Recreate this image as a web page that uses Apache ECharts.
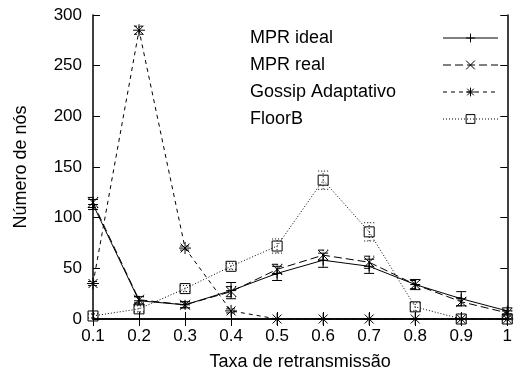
<!DOCTYPE html>
<html>
<head>
<meta charset="utf-8" />
<title>Número de nós</title>
<script src="https://cdn.jsdelivr.net/npm/echarts@6/dist/echarts.min.js"></script>
<style>
  body { margin: 0; background: #fff; }
  #chart { width: 515px; height: 376px; }
</style>
</head>
<body>
<div id="chart"></div>
<script type="text/javascript">
    // dados
    var taxas = [0.1, 0.2, 0.3, 0.4, 0.5, 0.6, 0.7, 0.8, 0.9, 1.0];
    var nomes = ['MPR ideal', 'MPR real', 'Gossip Adaptativo', 'FloorB'];
    var mprIdeal = [113, 18, 14, 28, 45, 58, 52, 34, 20, 8];
    var mprIdealErr = [5, 4, 3, 8, 7, 7, 7, 5, 7, 3];
    var mprReal = [115, 19, 14, 27, 49, 63, 56, 34, 17, 6];
    var mprRealErr = [5, 3, 3, 5, 5, 5, 6, 4, 4, 2];
    var gossip = [35, 285, 70, 8, 0, 0, 0, 0, 0, 0];
    var gossipErr = [2, 4, 2, 2, 0, 0, 0, 0, 0, 0];
    var floorB = [3, 10, 30, 52, 72, 137, 86, 12, 0, 0];
    var floorBErr = [2, 3, 3, 3, 7, 9, 9, 4, 1, 1];

    var fonte = 'Liberation Sans, Arial, sans-serif';

    function pares(vals) {
        return taxas.map(function (x, i) { return [x, vals[i]]; });
    }
    function barras(vals, errs) {
        return taxas.map(function (x, i) { return [x, vals[i] - errs[i], vals[i] + errs[i]]; });
    }

    // linhas de erro com "capas"
    function erro(tipo) {
        return function (params, api) {
            var x = api.value(0);
            var lo = api.coord([x, api.value(1)]);
            var hi = api.coord([x, api.value(2)]);
            var w = 5;
            var st = { stroke: '#000', lineWidth: 1, lineDash: tipo };
            return {
                type: 'group',
                children: [
                    { type: 'line', shape: { x1: lo[0], y1: lo[1], x2: hi[0], y2: hi[1] }, style: st },
                    { type: 'line', shape: { x1: lo[0] - w, y1: lo[1], x2: lo[0] + w, y2: lo[1] }, style: st },
                    { type: 'line', shape: { x1: hi[0] - w, y1: hi[1], x2: hi[0] + w, y2: hi[1] }, style: st }
                ]
            };
        };
    }

    var plus = 'path://M0,-5L0,5M-5,0L5,0';
    var cross = 'path://M-5,-5L5,5M-5,5L5,-5';
    var star = 'path://M0,-6L0,6M-6,0L6,0M-4.5,-4.5L4.5,4.5M-4.5,4.5L4.5,-4.5';

    function linha(nome, vals, simbolo, tipo, tam, fundo) {
        return {
            name: nome,
            type: 'line',
            data: pares(vals),
            symbol: simbolo,
            symbolSize: tam,
            showAllSymbol: true,
            lineStyle: { color: '#000', width: 1, type: tipo },
            itemStyle: { color: fundo, borderColor: '#000', borderWidth: 1 },
            z: 3,
            animation: false
        };
    }

    var myChart = echarts.init(document.getElementById('chart'));

    myChart.setOption({
        animation: false,
        textStyle: { fontFamily: fonte },
        grid: { left: 93, right: 1, top: 15, bottom: 57 },
        legend: {
            left: 245,
            top: 24,
            orient: 'vertical',
            align: 'right',
            itemGap: 9,
            itemWidth: 55,
            itemHeight: 11,
            data: nomes,
            lineStyle: { width: 1, color: '#000' },
            itemStyle: { borderWidth: 1, borderColor: '#000' },
            formatter: function (n) { return '{t|' + n + '}'; },
            textStyle: {
                fontSize: 18, color: '#000', fontFamily: fonte,
                rich: { t: { width: 188, align: 'left', fontSize: 18, fontFamily: fonte, color: '#000' } }
            },
            inactiveColor: '#000'
        },
        xAxis: [{
            type: 'value',
            min: 0.1,
            max: 1.0,
            interval: 0.1,
            name: 'Taxa de retransmissão',
            nameLocation: 'middle',
            nameGap: 34,
            nameTextStyle: { fontSize: 18, color: '#000' },
            axisLine: { lineStyle: { color: '#000', width: 1.5 } },
            axisTick: { inside: true, length: 7, lineStyle: { color: '#000' } },
            axisLabel: {
                fontSize: 17, color: '#000', margin: 9,
                formatter: function (v) { return v >= 0.999 ? '1' : v.toFixed(1); }
            },
            splitLine: { show: false }
        }, {
            type: 'value',
            position: 'top',
            min: 0.1,
            max: 1.0,
            interval: 0.1,
            axisLine: { lineStyle: { color: '#000', width: 1.5 } },
            axisTick: { inside: true, length: 7, lineStyle: { color: '#000' } },
            axisLabel: { show: false },
            splitLine: { show: false }
        }],
        yAxis: [{
            type: 'value',
            min: 0,
            max: 300,
            interval: 50,
            name: 'Número de nós',
            nameLocation: 'middle',
            nameGap: 63,
            nameTextStyle: { fontSize: 18, color: '#000' },
            axisLine: { show: true, lineStyle: { color: '#000', width: 1.5 } },
            axisTick: { show: true, inside: true, length: 7, lineStyle: { color: '#000' } },
            axisLabel: { fontSize: 17, color: '#000', margin: 11 },
            splitLine: { show: false }
        }, {
            type: 'value',
            position: 'right',
            min: 0,
            max: 300,
            interval: 50,
            axisLine: { show: true, lineStyle: { color: '#000', width: 1.5 } },
            axisTick: { show: true, inside: true, length: 7, lineStyle: { color: '#000' } },
            axisLabel: { show: false },
            splitLine: { show: false }
        }],
        series: [
            linha(nomes[0], mprIdeal, plus, 'solid', 10, '#000'),
            linha(nomes[1], mprReal, cross, [8, 4], 10, '#000'),
            linha(nomes[2], gossip, star, [4, 4], 12, '#000'),
            linha(nomes[3], floorB, 'rect', [1, 2], 10, 'rgba(255,255,255,0)'),
            { type: 'custom', data: barras(mprIdeal, mprIdealErr), renderItem: erro(null), z: 2 },
            { type: 'custom', data: barras(mprReal, mprRealErr), renderItem: erro([6, 3]), z: 2 },
            { type: 'custom', data: barras(gossip, gossipErr), renderItem: erro([3, 3]), z: 2 },
            { type: 'custom', data: barras(floorB, floorBErr), renderItem: erro([1, 2]), z: 2 }
        ]
    });
</script>
</body>
</html>
